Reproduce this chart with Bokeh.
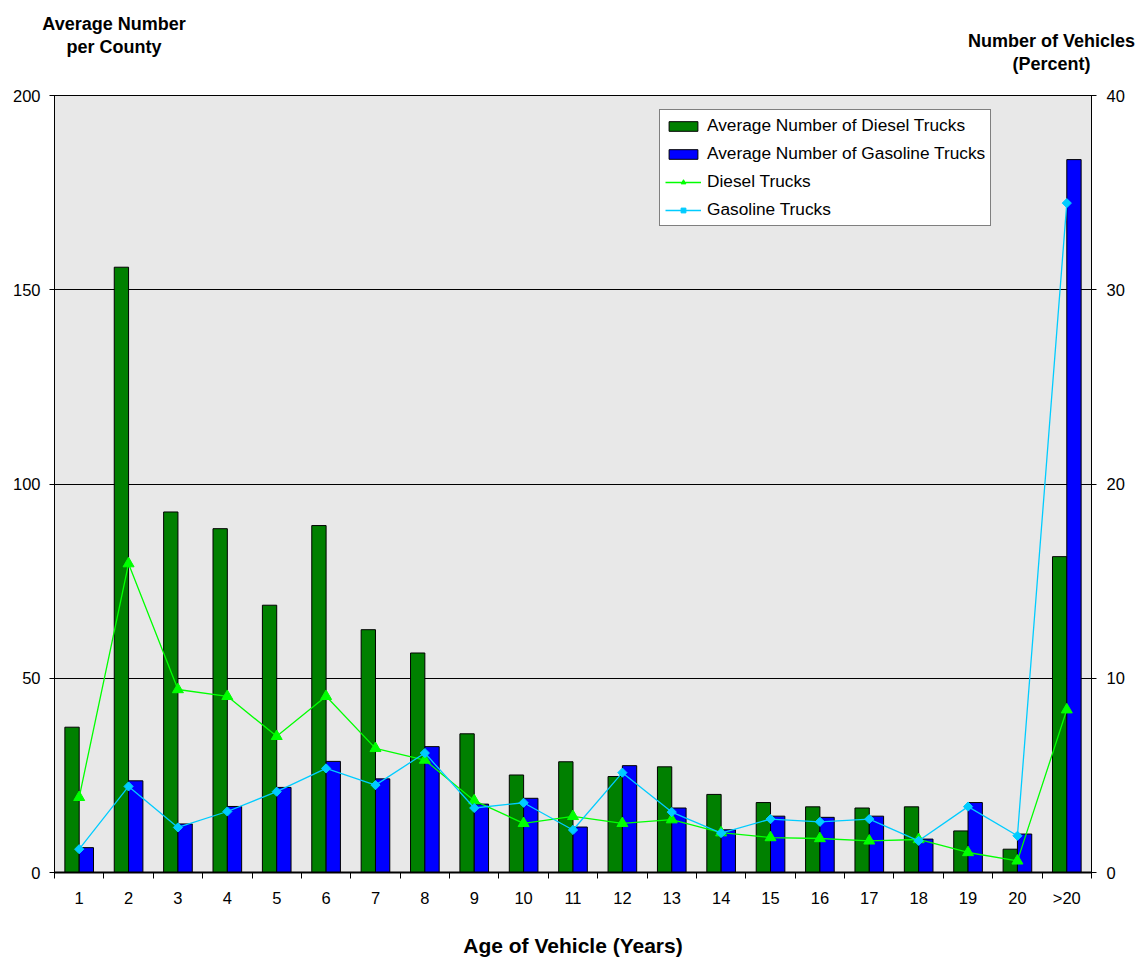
from bokeh.plotting import figure
from bokeh.layouts import column
from bokeh.models import Range1d, LinearAxis, FixedTicker, Label, ColumnDataSource
from bokeh.transform import dodge
from bokeh.embed import file_html
from bokeh.resources import INLINE

# Age classes of the trucks
ages = ["1", "2", "3", "4", "5", "6", "7", "8", "9", "10",
        "11", "12", "13", "14", "15", "16", "17", "18", "19", "20", ">20"]

# Average number of trucks per county (left axis)
diesel_avg = [37.4, 155.8, 92.8, 88.5, 68.8, 89.3, 62.5, 56.5, 35.7, 25.1,
              28.5, 24.7, 27.2, 20.1, 18.0, 16.9, 16.6, 16.9, 10.7, 6.0, 81.3]
gas_avg = [6.4, 23.6, 12.5, 17.0, 21.9, 28.6, 24.1, 32.4, 17.6, 19.1,
           11.7, 27.5, 16.6, 11.0, 14.5, 14.2, 14.5, 8.6, 18.0, 9.9, 183.5]

# Share of vehicles in each age class, percent (right axis)
diesel_pct = [3.87, 15.9, 9.42, 9.07, 7.01, 9.07, 6.39, 5.79, 3.70, 2.53,
              2.89, 2.53, 2.72, 2.05, 1.80, 1.75, 1.63, 1.70, 1.03, 0.60, 8.38]
gas_pct = [1.2, 4.43, 2.32, 3.14, 4.16, 5.36, 4.5, 6.15, 3.32, 3.59,
           2.19, 5.14, 3.11, 2.03, 2.75, 2.61, 2.75, 1.63, 3.39, 1.89, 34.46]

left_ticks = [0, 50, 100, 150, 200]
right_ticks = [0, 10, 20, 30, 40]

pos = list(range(1, len(ages) + 1))
bounds = [i + 0.5 for i in range(0, len(ages) + 1)]

src = ColumnDataSource(dict(pos=pos, diesel_avg=diesel_avg, gas_avg=gas_avg,
                            diesel_pct=diesel_pct, gas_pct=gas_pct))

FONT = "Liberation Sans"
W = 1141
HEAD_H = 80
BORDER_L, BORDER_R = 54, 50

# Header strip carrying the two axis titles, in page pixels (y downwards)
head = figure(width=W, height=HEAD_H, output_backend="svg", toolbar_location=None,
              x_range=Range1d(0, W), y_range=Range1d(HEAD_H, 0),
              x_axis_type=None, y_axis_type=None, title=None,
              min_border=0, frame_align=False, outline_line_color=None,
              background_fill_color="white", border_fill_color="white")
head.grid.visible = False
for txt, x, y in [("Average Number", 113.5, 23), ("per County", 113.5, 46),
                  ("Number of Vehicles", 1051, 40), ("(Percent)", 1051, 63)]:
    head.add_layout(Label(x=x, y=y, text=txt, text_font=FONT, text_font_size="18px",
                          text_font_style="bold", text_align="center",
                          text_baseline="alphabetic", text_color="black"))

p = figure(width=W, height=960 - HEAD_H, output_backend="svg", toolbar_location=None,
           title=None, frame_align=False,
           x_range=Range1d(0.5, len(ages) + 0.5), y_range=Range1d(0, 200),
           min_border_left=BORDER_L, min_border_right=BORDER_R,
           min_border_top=95 - HEAD_H, min_border_bottom=88,
           background_fill_color="#E8E8E8", border_fill_color="white",
           outline_line_color="black", outline_line_width=1)
p.extra_y_ranges = {"pct": Range1d(0, 40)}

# Bars: average numbers per county
p.vbar(x=dodge("pos", -0.145), top="diesel_avg", width=0.29, source=src,
       fill_color="#008000", line_color="black", line_width=1,
       legend_label="Average Number of Diesel Trucks")
p.vbar(x=dodge("pos", 0.145), top="gas_avg", width=0.29, source=src,
       fill_color="#0000FF", line_color="black", line_width=1,
       legend_label="Average Number of Gasoline Trucks")

# Lines: percentage of vehicles
p.line("pos", "diesel_pct", source=src, y_range_name="pct",
       line_color="#00FF00", line_width=1.3, legend_label="Diesel Trucks")
p.scatter("pos", "diesel_pct", source=src, y_range_name="pct", marker="triangle",
          size=11, fill_color="#00FF00", line_color="#00FF00",
          legend_label="Diesel Trucks")
p.line("pos", "gas_pct", source=src, y_range_name="pct",
       line_color="#00CCFF", line_width=1.3, legend_label="Gasoline Trucks")
p.scatter("pos", "gas_pct", source=src, y_range_name="pct", marker="square",
          angle=0.785398, size=6.5, fill_color="#00CCFF", line_color="#00CCFF",
          legend_label="Gasoline Trucks")

# Grid
p.xgrid.visible = False
p.ygrid.ticker = FixedTicker(ticks=[50, 100, 150])
p.ygrid.grid_line_color = "black"
p.ygrid.grid_line_width = 1

# Bottom axis: labels at category centres, ticks at category boundaries
xa = p.xaxis[0]
xa.ticker = FixedTicker(ticks=pos, minor_ticks=bounds)
xa.major_label_overrides = {i: a for i, a in zip(pos, ages)}
xa.major_tick_line_color = None
xa.minor_tick_line_color = "black"
xa.minor_tick_in = 0
xa.minor_tick_out = 6
xa.axis_line_width = 2
xa.axis_line_color = "black"
xa.major_label_text_font = FONT
xa.major_label_text_font_size = "16.5px"
xa.major_label_text_color = "black"
xa.major_label_standoff = 10
xa.axis_label = "Age of Vehicle (Years)"
xa.axis_label_text_font = FONT
xa.axis_label_text_font_size = "21px"
xa.axis_label_text_font_style = "bold"
xa.axis_label_text_color = "black"
xa.axis_label_standoff = 24

# Left axis
ya = p.yaxis[0]
ya.ticker = FixedTicker(ticks=left_ticks)
ya.major_tick_in = 5
ya.major_tick_out = 5
ya.minor_tick_line_color = None
ya.axis_line_color = "black"
ya.major_label_text_font = FONT
ya.major_label_text_font_size = "16.5px"
ya.major_label_text_color = "black"
ya.major_label_standoff = 9

# Right axis
ra = LinearAxis(y_range_name="pct", ticker=FixedTicker(ticks=right_ticks))
ra.major_tick_in = 5
ra.major_tick_out = 5
ra.minor_tick_line_color = None
ra.axis_line_color = "black"
ra.major_label_text_font = FONT
ra.major_label_text_font_size = "16.5px"
ra.major_label_text_color = "black"
ra.major_label_standoff = 10
p.add_layout(ra, "right")

# Legend
lg = p.legend[0]
lg.location = (605, 646)
lg.label_text_font = FONT
lg.label_text_font_size = "17.3px"
lg.label_text_color = "black"
lg.glyph_width = 36
lg.glyph_height = 12
lg.label_height = 20
lg.label_standoff = 6
lg.spacing = 7
lg.padding = 5
lg.margin = 0
lg.border_line_color = "black"
lg.border_line_width = 1
lg.background_fill_color = "white"
lg.background_fill_alpha = 1.0

layout = column(head, p, spacing=0)

with open("out.html", "w") as f:
    f.write(file_html(layout, INLINE))
